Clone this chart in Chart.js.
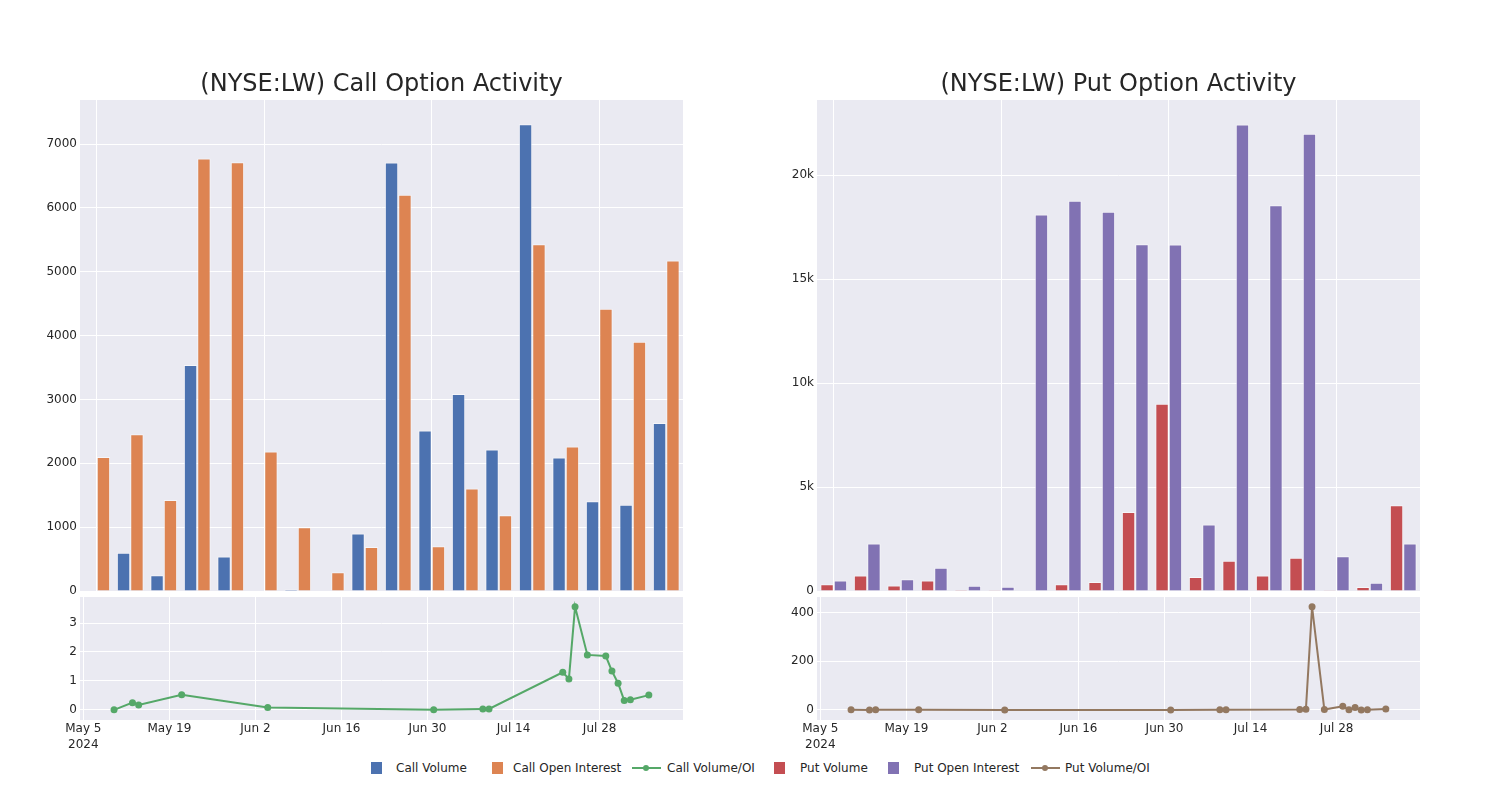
<!DOCTYPE html>
<html>
<head>
<meta charset="utf-8">
<script src="https://cdn.jsdelivr.net/npm/chart.js@4.4.1/dist/chart.umd.min.js"></script>
<style>
  body { margin: 0; background: #fff; width: 1500px; height: 800px; position: relative; overflow: hidden; }
  canvas { position: absolute; }
  .lg { position: absolute; font: 12px "DejaVu Sans"; color: #262626; white-space: nowrap; top: 761px; line-height: 14px; }
  .sw { position: absolute; }
</style>
</head>
<body>
<canvas id="callBars" width="683" height="541" style="left:0px;top:60px"></canvas>
<canvas id="putBars" width="683" height="541" style="left:737px;top:60px"></canvas>
<canvas id="callLine" width="683" height="170" style="left:0px;top:590px"></canvas>
<canvas id="putLine" width="683" height="170" style="left:737px;top:590px"></canvas>
<div id="legend"></div>
<script>
// expiration dates (one per bar group / line point)
const expiries = ['2024-05-10', '2024-05-13', '2024-05-14', '2024-05-21', '2024-06-04', '2024-07-01',
  '2024-07-09', '2024-07-10', '2024-07-22', '2024-07-23', '2024-07-24', '2024-07-26',
  '2024-07-29', '2024-07-30', '2024-07-31', '2024-08-01', '2024-08-02', '2024-08-05'];

const callVolume = [10, 600, 245, 3540, 540, 10, 25, 10, 900, 6710, 2515, 3085, 2215, 7310, 2090, 1405, 1350, 2630];
const callOpenInterest = [2100, 2455, 1425, 6775, 6715, 2185, 1000, 295, 690, 6205, 700, 1605, 1185, 5430, 2265, 4420, 3905, 5175];
const callVolOI = [0.0, 0.25, 0.17, 0.52, 0.08, 0.0, 0.03, 0.03, 1.30, 1.07, 3.56, 1.90, 1.86, 1.34, 0.92, 0.32, 0.35, 0.51];

const putVolume = [320, 740, 260, 510, 60, 10, 20, 320, 430, 3800, 9010, 670, 1460, 750, 1600, 40, 190, 4120];
const putOpenInterest = [510, 2290, 560, 1120, 250, 200, 18110, 18770, 18240, 16680, 16670, 3200, 22440, 18560, 22000, 1670, 400, 2290];
const putVolOI = [0.6, 0.3, 0.5, 0.5, 0.2, 0.1, 1, 1, 2, 3, 423, 2, 15, 0.5, 10, 0.2, 0.5, 4];

// tick values
const callBarTicks = [0, 1000, 2000, 3000, 4000, 5000, 6000, 7000];
const putBarTicks = [0, 5000, 10000, 15000, 20000];
const callRatioTicks = [0, 1, 2, 3];
const putRatioTicks = [0, 200, 400];
const dateTicks = ['2024-05-05', '2024-05-19', '2024-06-02', '2024-06-16', '2024-06-30', '2024-07-14', '2024-07-28'];

const colors = {
  callVol: '#4C72B0', callOI: '#DD8452', callRatio: '#55A868',
  putVol: '#C44E52', putOI: '#8172B3', putRatio: '#937860'
};

const font = { family: 'DejaVu Sans', size: 12 };
const textColor = '#262626';
const DAY = 86400000;
const origin = Date.UTC(2024, 4, 5);
const months = ['Jan', 'Feb', 'Mar', 'Apr', 'May', 'Jun', 'Jul', 'Aug', 'Sep', 'Oct', 'Nov', 'Dec'];
const toDay = s => (Date.parse(s) - origin) / DAY;

const bgPlugin = {
  id: 'bg',
  beforeDraw(chart) {
    const a = chart.chartArea, ctx = chart.ctx;
    ctx.save();
    ctx.fillStyle = '#EAEAF2';
    ctx.fillRect(a.left, a.top, a.right - a.left, a.bottom - a.top);
    ctx.restore();
  }
};

const fixTicks = vals => s => { s.ticks = vals.map(v => ({ value: v })); };

function barChart(id, title, sets, yMax, yTicks, fmt) {
  return new Chart(document.getElementById(id), {
    type: 'bar',
    data: {
      labels: expiries,
      datasets: sets.map(s => ({
        label: s.label, data: s.data, backgroundColor: s.color,
        borderColor: 'rgba(255,255,255,0.55)', borderWidth: 1,
        categoryPercentage: 0.8, barPercentage: 1
      }))
    },
    options: {
      responsive: false, animation: false, devicePixelRatio: 1,
      layout: { autoPadding: false },
      plugins: {
        legend: { display: false }, tooltip: { enabled: false },
        title: {
          display: true, text: title, color: textColor, fullSize: false,
          font: { family: 'DejaVu Sans', size: 24, weight: 'normal' },
          padding: { top: 10, bottom: 1.2 }
        }
      },
      scales: {
        x: {
          ticks: { display: false },
          grid: { offset: false, drawTicks: false, color: c => c.index % 5 === 0 ? '#ffffff' : 'rgba(0,0,0,0)' },
          border: { display: false },
          afterFit: s => { s.height = 10; }
        },
        y: {
          min: 0, max: yMax,
          afterBuildTicks: fixTicks(yTicks),
          ticks: { padding: 3, color: textColor, font, callback: fmt },
          grid: { color: '#ffffff', drawTicks: false },
          border: { display: false },
          afterFit: s => { s.width = 80; s.paddingTop = 0; s.paddingBottom = 0; }
        }
      }
    },
    plugins: [bgPlugin]
  });
}

function dayLabel(v) {
  const d = new Date(origin + v * DAY);
  const txt = months[d.getUTCMonth()] + ' ' + d.getUTCDate();
  return v === 0 ? [txt, '2024'] : txt;
}

function lineChart(id, label, values, color, yMin, yMax, yTicks) {
  const pts = expiries.map((e, i) => ({ x: toDay(e), y: values[i] }));
  return new Chart(document.getElementById(id), {
    type: 'line',
    data: {
      datasets: [{
        label, data: pts, borderColor: color, backgroundColor: color,
        borderWidth: 2, pointRadius: 3.5, pointBorderWidth: 0, pointHoverRadius: 3.5, tension: 0
      }]
    },
    options: {
      responsive: false, animation: false, devicePixelRatio: 1,
      layout: { autoPadding: false, padding: { top: 7 } },
      plugins: { legend: { display: false }, tooltip: { enabled: false } },
      scales: {
        x: {
          type: 'linear', min: -0.54, max: 97.56,
          afterBuildTicks: fixTicks(dateTicks.map(toDay)),
          ticks: { padding: 1, maxRotation: 0, autoSkip: false,
            color: textColor, font: { family: 'DejaVu Sans', size: 12, lineHeight: 1.3 }, callback: dayLabel },
          grid: { color: '#ffffff', drawTicks: false },
          border: { display: false },
          afterFit: s => { s.height = 40; s.paddingLeft = 0; s.paddingRight = 0; }
        },
        y: {
          min: yMin, max: yMax,
          afterBuildTicks: fixTicks(yTicks),
          ticks: { padding: 3, color: textColor, font },
          grid: { color: '#ffffff', drawTicks: false },
          border: { display: false },
          afterFit: s => { s.width = 80; s.paddingTop = 0; s.paddingBottom = 0; }
        }
      }
    },
    plugins: [bgPlugin]
  });
}

barChart('callBars', '(NYSE:LW) Call Option Activity', [
  { label: 'Call Volume', data: callVolume, color: colors.callVol },
  { label: 'Call Open Interest', data: callOpenInterest, color: colors.callOI }
], 7690, callBarTicks, v => String(v));

barChart('putBars', '(NYSE:LW) Put Option Activity', [
  { label: 'Put Volume', data: putVolume, color: colors.putVol },
  { label: 'Put Open Interest', data: putOpenInterest, color: colors.putOI }
], 23620, putBarTicks, v => v === 0 ? '0' : (v / 1000) + 'k');

lineChart('callLine', 'Call Volume/OI', callVolOI, colors.callRatio, -0.35, 3.9, callRatioTicks);
lineChart('putLine', 'Put Volume/OI', putVolOI, colors.putRatio, -41, 463, putRatioTicks);

// figure legend
const legendItems = [
  { label: 'Call Volume', color: colors.callVol, kind: 'box', mx: 371, tx: 396 },
  { label: 'Call Open Interest', color: colors.callOI, kind: 'box', mx: 492, tx: 513 },
  { label: 'Call Volume/OI', color: colors.callRatio, kind: 'line', mx: 632, tx: 667 },
  { label: 'Put Volume', color: colors.putVol, kind: 'box', mx: 774, tx: 800 },
  { label: 'Put Open Interest', color: colors.putOI, kind: 'box', mx: 888, tx: 914 },
  { label: 'Put Volume/OI', color: colors.putRatio, kind: 'line', mx: 1031, tx: 1065 }
];
const lg = document.getElementById('legend');
legendItems.forEach(it => {
  if (it.kind === 'box') {
    const b = document.createElement('div');
    b.className = 'sw';
    b.style.cssText = `left:${it.mx}px;top:762px;width:11px;height:12px;background:${it.color}`;
    lg.appendChild(b);
  } else {
    const l = document.createElement('div');
    l.className = 'sw';
    l.style.cssText = `left:${it.mx}px;top:767px;width:29px;height:2px;background:${it.color}`;
    lg.appendChild(l);
    const d = document.createElement('div');
    d.className = 'sw';
    d.style.cssText = `left:${it.mx + 11}px;top:765px;width:6px;height:6px;border-radius:50%;background:${it.color}`;
    lg.appendChild(d);
  }
  const t = document.createElement('div');
  t.className = 'lg';
  t.style.left = it.tx + 'px';
  t.textContent = it.label;
  lg.appendChild(t);
});
</script>
</body>
</html>
